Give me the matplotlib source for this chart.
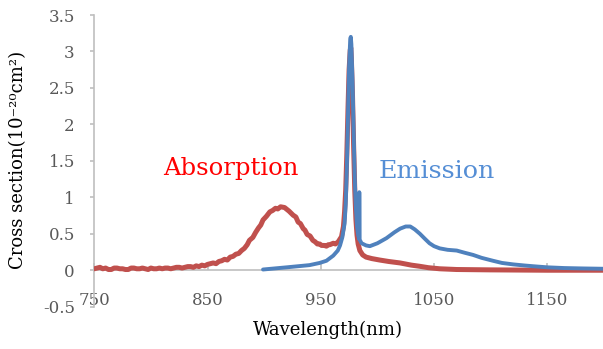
import matplotlib
matplotlib.use("Agg")
import matplotlib.pyplot as plt

# Absorption cross section (red)
abs_wl = [750, 752.5, 755, 757.5, 760, 762.5, 765, 767.5, 770, 772.5, 775, 777.5, 780, 782.5,
          785, 787.5, 790, 792.5, 795, 797.5, 800, 802.5, 805, 807.5, 810, 812.5, 815, 817.5,
          820, 822.5, 825, 827.5, 830, 832.5, 835, 837.5, 840, 842.5, 845, 847.5, 850, 852.5,
          855, 857.5, 860, 862.5, 865, 867.5, 870, 872.5, 875, 877.5, 880, 882.5, 885, 887,
          890, 892.5, 895, 897, 899, 902, 905, 907.5, 910, 912, 914.5, 918, 922, 925.6, 928,
          930, 932, 934.5, 936, 938, 940.5, 943, 945, 947, 949, 950.7, 953, 955, 956.6, 958,
          961, 963, 965.4, 968.3, 970, 971, 972, 973, 974, 975, 976, 976.5, 977,
          978, 979, 980, 981, 982, 983, 984.5, 987, 990, 995, 1002, 1010, 1020, 1030,
          1037, 1045, 1055, 1070, 1100, 1150, 1200]
abs_val = [0.02, 0.03, 0.04, 0.02, 0.03, 0.01, 0.01, 0.03, 0.03, 0.02, 0.02, 0.01, 0.01, 0.03,
           0.03, 0.02, 0.02, 0.03, 0.02, 0.01, 0.03, 0.02, 0.02, 0.03, 0.02, 0.03, 0.03, 0.02,
           0.03, 0.04, 0.04, 0.03, 0.04, 0.05, 0.05, 0.04, 0.06, 0.05, 0.07, 0.06, 0.08, 0.09,
           0.10, 0.09, 0.12, 0.13, 0.15, 0.14, 0.18, 0.19, 0.22, 0.23, 0.27, 0.30, 0.35, 0.41,
           0.45, 0.52, 0.58, 0.62, 0.69, 0.74, 0.80, 0.82, 0.85, 0.84, 0.87, 0.86, 0.81, 0.755, 0.73,
           0.66, 0.64, 0.57, 0.55, 0.49, 0.47, 0.41, 0.39, 0.36, 0.36, 0.34, 0.34, 0.33, 0.35,
           0.35, 0.37, 0.36, 0.39, 0.46, 0.60, 0.80, 1.10, 1.60, 2.20, 2.75, 3.02, 3.05, 2.90,
           2.40, 1.70, 1.10, 0.70, 0.48, 0.36, 0.27, 0.21, 0.18, 0.16, 0.14, 0.12, 0.10, 0.07,
           0.055, 0.035, 0.02, 0.01, 0.005, 0.0, 0.0]

# Emission cross section (blue)
emi_wl = [899, 920, 940, 949, 955, 961, 965, 967, 969, 971, 972, 973, 974, 975, 976, 976.5,
          977, 978, 979, 980, 981, 982, 983, 983.8, 984, 984.3, 986, 990, 993.3, 1000, 1008,
          1015, 1020, 1025, 1029, 1033, 1037.5, 1042, 1046, 1050, 1055, 1062, 1070, 1077,
          1084.5, 1092, 1102, 1110, 1120, 1130, 1137.5, 1150, 1165, 1180, 1200]
emi_val = [0.01, 0.04, 0.07, 0.10, 0.13, 0.20, 0.27, 0.34, 0.45, 0.64, 0.90, 1.40, 2.10, 2.80, 3.17, 3.20,
           3.10, 2.60, 1.90, 1.25, 0.85, 0.60, 0.48, 0.43, 1.07, 0.42, 0.37, 0.34, 0.33, 0.37, 0.44,
           0.52, 0.57, 0.60, 0.60, 0.56, 0.50, 0.43, 0.37, 0.33, 0.30, 0.28, 0.27, 0.24,
           0.21, 0.17, 0.13, 0.10, 0.08, 0.065, 0.055, 0.04, 0.03, 0.025, 0.02]

x_ticks = [750, 850, 950, 1050, 1150]
y_ticks = [-0.5, 0, 0.5, 1, 1.5, 2, 2.5, 3, 3.5]
y_tick_labels = ["-0.5", "0", "0.5", "1", "1.5", "2", "2.5", "3", "3.5"]

plt.rcParams['font.family'] = ['DejaVu Serif']

W, H = 603, 349
fig = plt.figure(figsize=(W / 100, H / 100), dpi=100)
left, right, top, bottom = 94.3, 603.9, 15, 306.7
ax = fig.add_axes([left / W, (H - bottom) / H, (right - left) / W, (bottom - top) / H])

ax.plot(abs_wl, abs_val, color='#c0504d', lw=3.6, solid_capstyle='round', solid_joinstyle='round', zorder=3)
ax.plot(emi_wl, emi_val, color='#4f81bd', lw=2.8, solid_capstyle='round', solid_joinstyle='round', zorder=4)

ax.set_xlim(750, 1200)
ax.set_ylim(-0.5, 3.5)

gray = '#bfbfbf'
for s in ['top', 'right']:
    ax.spines[s].set_visible(False)
ax.spines['left'].set_color(gray)
ax.spines['left'].set_linewidth(1.2)
ax.spines['bottom'].set_position(('data', 0))
ax.spines['bottom'].set_color(gray)
ax.spines['bottom'].set_linewidth(1.2)

ax.set_xticks(x_ticks)
ax.set_xticklabels([str(t) for t in x_ticks])
ax.set_yticks(y_ticks)
ax.set_yticklabels(y_tick_labels)
ax.tick_params(axis='x', direction='in', length=5, width=1.2, color=gray, pad=16,
               labelsize=12, labelcolor='#595959')
ax.tick_params(axis='y', direction='out', length=3, width=1.2, color=gray, pad=11,
               labelsize=12, labelcolor='#595959')

ax.text(810.5, 1.40, 'Absorption', color='#ff0000', fontsize=17.5, va='center', ha='left')
ax.text(1000.7, 1.36, 'Emission', color='#558ed5', fontsize=18.3, va='center', ha='left')

fig.text(328 / W, (H - 330) / H, 'Wavelength(nm)', fontsize=13, ha='center', va='center', color='#000000')
fig.text(18 / W, (H - 160) / H, 'Cross section(10⁻²⁰cm²)', fontsize=13, ha='center', va='center',
         rotation=90, color='#000000')

fig.savefig('out.png', dpi=100)
